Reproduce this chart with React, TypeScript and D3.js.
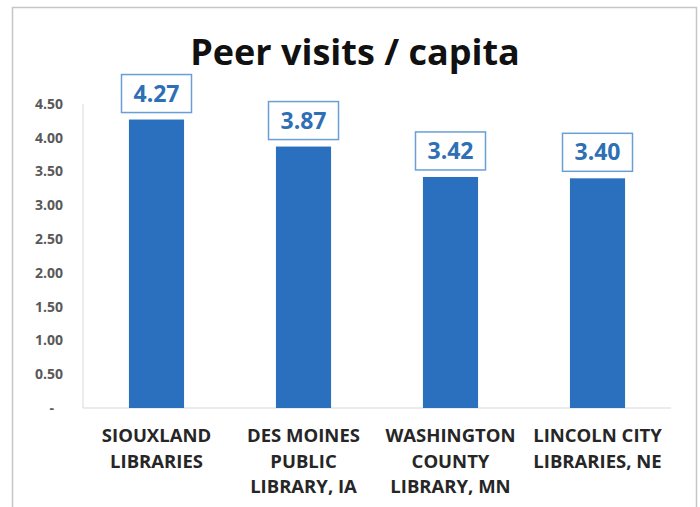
import { useEffect, useRef } from "react";
import * as d3 from "d3";

// Chart data
const libraries = [
  ["SIOUXLAND", "LIBRARIES"],
  ["DES MOINES", "PUBLIC", "LIBRARY, IA"],
  ["WASHINGTON", "COUNTY", "LIBRARY, MN"],
  ["LINCOLN CITY", "LIBRARIES, NE"],
];
const visitsPerCapita = [4.27, 3.87, 3.42, 3.4];
const yTicks = [0, 0.5, 1, 1.5, 2, 2.5, 3, 3.5, 4, 4.5];

const FONT = "'Open Sans', 'DejaVu Sans', sans-serif";

export default function App() {
  const svgRef = useRef<SVGSVGElement>(null);

  useEffect(() => {
    if (!svgRef.current) return;
    const svg = d3.select(svgRef.current);
    const width = 700;
    const height = 507;
    const margin = { top: 104, right: 29, bottom: 99, left: 83 };

    svg.selectAll("*").remove();
    svg.attr("width", width).attr("height", height);

    // background + outer frame
    svg
      .append("rect")
      .attr("x", 0)
      .attr("y", 0)
      .attr("width", width)
      .attr("height", height)
      .attr("fill", "#ffffff");
    svg
      .append("rect")
      .attr("x", 12.5)
      .attr("y", 7.5)
      .attr("width", 684)
      .attr("height", 510)
      .attr("fill", "none")
      .attr("stroke", "#c6c6c6")
      .attr("stroke-width", 1.5);

    const keys = libraries.map((d) => d.join(" "));

    const xScale = d3
      .scaleBand()
      .domain(keys)
      .range([margin.left, width - margin.right])
      .paddingInner(0.625)
      .paddingOuter(0.3125);

    const yScale = d3
      .scaleLinear()
      .domain([0, 4.5])
      .range([height - margin.bottom, margin.top]);

    // Title
    svg
      .append("text")
      .attr("x", 355)
      .attr("y", 65)
      .attr("text-anchor", "middle")
      .attr("fill", "#111111")
      .attr("font-family", FONT)
      .attr("font-size", "36px")
      .attr("font-weight", "bold")
      .text("Peer visits / capita");

    // Axis lines
    svg
      .append("line")
      .attr("x1", margin.left)
      .attr("x2", margin.left)
      .attr("y1", yScale(4.5))
      .attr("y2", yScale(0))
      .attr("stroke", "#d9d9d9")
      .attr("stroke-width", 1);
    svg
      .append("line")
      .attr("x1", margin.left)
      .attr("x2", width - margin.right)
      .attr("y1", yScale(0))
      .attr("y2", yScale(0))
      .attr("stroke", "#d9d9d9")
      .attr("stroke-width", 1);

    // Y tick labels
    svg
      .append("g")
      .selectAll("text")
      .data(yTicks)
      .enter()
      .append("text")
      .attr("x", (d) => (d === 0 ? 54 : 63))
      .attr("y", (d) => yScale(d))
      .attr("dy", "0.35em")
      .attr("text-anchor", "end")
      .attr("fill", "#595959")
      .attr("font-family", FONT)
      .attr("font-size", "14px")
      .attr("font-weight", "bold")
      .text((d) => (d === 0 ? "-" : d.toFixed(2)));

    // Bars
    svg
      .selectAll("rect.bar")
      .data(visitsPerCapita)
      .enter()
      .append("rect")
      .attr("class", "bar")
      .attr("x", (_, i) => xScale(keys[i])!)
      .attr("y", (d) => yScale(d))
      .attr("width", xScale.bandwidth())
      .attr("height", (d) => yScale(0) - yScale(d))
      .attr("fill", "#2a70bf");

    // Value labels with boxes
    const labels = svg
      .selectAll("g.value")
      .data(visitsPerCapita)
      .enter()
      .append("g")
      .attr("class", "value")
      .attr(
        "transform",
        (d, i) =>
          `translate(${xScale(keys[i])! + xScale.bandwidth() / 2},${yScale(d) - 7})`
      );
    labels
      .append("rect")
      .attr("x", -35)
      .attr("y", -38)
      .attr("width", 70)
      .attr("height", 38)
      .attr("fill", "#ffffff")
      .attr("stroke", "#6a9fd6")
      .attr("stroke-width", 1.5);
    labels
      .append("text")
      .attr("x", 0)
      .attr("y", -11)
      .attr("text-anchor", "middle")
      .attr("fill", "#2e6fb5")
      .attr("font-family", FONT)
      .attr("font-size", "23px")
      .attr("font-weight", "bold")
      .text((d) => d.toFixed(2));

    // Category labels
    const cats = svg
      .selectAll("text.cat")
      .data(libraries)
      .enter()
      .append("text")
      .attr("class", "cat")
      .attr("text-anchor", "middle")
      .attr("fill", "#262626")
      .attr("font-family", FONT)
      .attr("font-size", "18.5px")
      .attr("font-weight", "bold");
    cats
      .selectAll("tspan")
      .data((d) => d)
      .enter()
      .append("tspan")
      .attr("x", function () {
        const parent = (this as SVGTSpanElement).parentNode as SVGTextElement;
        const lines = d3.select(parent).datum() as string[];
        return xScale(lines.join(" "))! + xScale.bandwidth() / 2;
      })
      .attr("y", (_, j) => 442 + j * 25.5)
      .text((d) => d);
  }, []);

  return (
    <svg
      ref={svgRef}
      style={{ position: "absolute", left: 0, top: 0, display: "block" }}
    ></svg>
  );
}
